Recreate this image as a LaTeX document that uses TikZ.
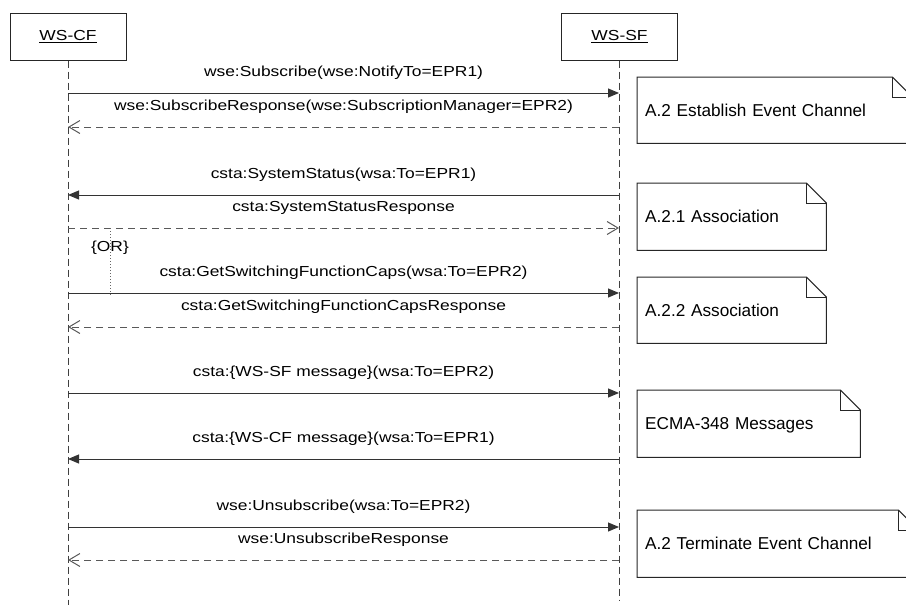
\documentclass[tikz,border=0pt]{standalone}
\usepackage{fontspec}
\setmainfont{Liberation Sans}
\newfontfamily\msgfont{Liberation Sans}[FakeStretch=1.2]
\usetikzlibrary{arrows.meta}
\begin{document}
\begin{tikzpicture}[x=1pt,y=1pt,
  head/.style={draw=black!85, line width=1pt, minimum width=116pt, minimum height=47pt, inner sep=0pt, font=\msgfont\fontsize{14.5}{17}\selectfont},
  lifeline/.style={draw=black!75, line width=1pt, dash pattern=on 7pt off 4pt},
  msg/.style={draw=black!80, line width=1pt, -{Triangle[length=11pt,width=9pt]}},
  reply/.style={draw=black!65, line width=1pt, dash pattern=on 7pt off 5pt, -{Straight Barb[length=11pt,width=13pt]}},
  lbl/.style={font=\msgfont\fontsize{14.5}{17}\selectfont, anchor=base, inner sep=0pt, yshift=16.5pt},
  notebox/.style={anchor=north west, inner xsep=8pt, inner ysep=0pt, align=left, text height=12.5pt, text depth=0pt, font=\fontsize{17.2}{20}\selectfont},
  noteline/.style={draw=black!85, line width=1pt},
  guard/.style={draw=black!60, line width=0.8pt, dash pattern=on 1pt off 2pt}
]
\useasboundingbox (0,0) rectangle (906,-605);
\clip (0,0) rectangle (906,-605);

% lifeline heads
\node[head] (cf) at (68,-36.5) {\underline{WS-CF}};
\node[head] (sf) at (619.5,-36.5) {\underline{WS-SF}};
\coordinate (cfEnd) at (68,-605);
\coordinate (sfEnd) at (619,-600);
\draw[lifeline] (cf.south) -- (cfEnd);
\draw[lifeline] (sf.south -| sfEnd) -- (sfEnd);

% message anchor points
\foreach \n/\y in {1/93,2/127,3/195,4/228,5/293,6/327,7/393,8/459,9/527,10/560}{
  \coordinate (cf\n) at (68,-\y);
  \coordinate (sf\n) at (619,-\y);
}

% messages
\draw[msg]   (cf1) -- node[lbl]{wse:Subscribe(wse:NotifyTo=EPR1)} (sf1);
\draw[reply] (sf2) -- node[lbl]{wse:SubscribeResponse(wse:SubscriptionManager=EPR2)} (cf2);
\draw[msg]   (sf3) -- node[lbl]{csta:SystemStatus(wsa:To=EPR1)} (cf3);
\draw[reply] (cf4) -- node[lbl]{csta:SystemStatusResponse} (sf4);
\draw[msg]   (cf5) -- node[lbl]{csta:GetSwitchingFunctionCaps(wsa:To=EPR2)} (sf5);
\draw[reply] (sf6) -- node[lbl]{csta:GetSwitchingFunctionCapsResponse} (cf6);
\draw[msg]   (cf7) -- node[lbl]{csta:\{WS-SF message\}(wsa:To=EPR2)} (sf7);
\draw[msg]   (sf8) -- node[lbl]{csta:\{WS-CF message\}(wsa:To=EPR1)} (cf8);
\draw[msg]   (cf9) -- node[lbl]{wse:Unsubscribe(wsa:To=EPR2)} (sf9);
\draw[reply] (sf10) -- node[lbl]{wse:UnsubscribeResponse} (cf10);

% OR guard
\coordinate (orTop) at (110,-228);
\coordinate (orBot) at (110,-296);
\draw[guard] (orTop) -- (orBot);
\node[font=\msgfont\fontsize{14.5}{17}\selectfont, anchor=base, inner sep=0pt] (orlbl) at (110,-251) {\{OR\}};

% notes
\foreach \nm/\xa/\ya/\xb/\yb/\txt in {
  n1/637/77/912/143/{A.2 Establish Event Channel},
  n2/637/183/826/250/{A.2.1 Association},
  n3/637/277/826/343/{A.2.2 Association},
  n4/637/390/860/457/{ECMA-348 Messages},
  n5/637/510/918/577/{A.2 Terminate Event Channel}}{
  \pgfmathsetmacro\w{\xb-\xa}
  \pgfmathsetmacro\h{\yb-\ya}
  \pgfmathsetmacro\tw{\w-16}
  \node[notebox, text width=\tw pt, minimum height=\h pt] (\nm) at (\xa,-\ya) {\txt};
  \draw[noteline] (\nm.north west) -- ([xshift=-20pt]\nm.north east) -- ([yshift=-20pt]\nm.north east)
      -- (\nm.south east) -- (\nm.south west) -- cycle;
  \draw[noteline] ([xshift=-20pt]\nm.north east) |- ([yshift=-20pt]\nm.north east);
}
\end{tikzpicture}
\end{document}
